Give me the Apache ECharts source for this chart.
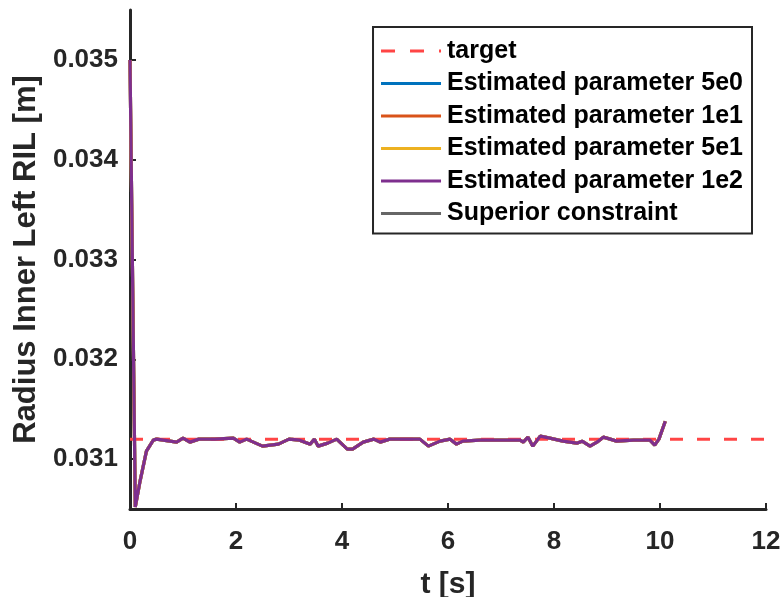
<!DOCTYPE html>
<html><head><meta charset="utf-8">
<script src="https://cdn.jsdelivr.net/npm/echarts@6/dist/echarts.min.js"></script>
<style>html,body{margin:0;padding:0;background:#fff}#c{width:784px;height:597px}</style>
</head><body><div id="c"></div>
<script>
const timeS = [0,0.1,0.19,0.31,0.44,0.5,0.88,1.0,1.13,1.3,1.6,1.95,2.07,2.2,2.5,2.8,3.0,3.2,3.4,3.48,3.55,3.73,3.9,4.1,4.2,4.4,4.6,4.72,4.9,5.2,5.47,5.63,5.85,6.04,6.16,6.28,6.6,7.0,7.36,7.42,7.51,7.6,7.74,7.92,8.17,8.43,8.53,8.68,8.81,8.93,9.06,9.18,9.5,9.81,9.9,9.98,10.1];
const estimated = [0.0350,0.03052,0.03078,0.03108,0.03119,0.0312,0.03117,0.03121,0.03117,0.0312,0.0312,0.03121,0.03117,0.0312,0.03113,0.03115,0.0312,0.03119,0.03115,0.0312,0.03113,0.03116,0.0312,0.0311,0.0311,0.03117,0.0312,0.03117,0.0312,0.0312,0.0312,0.03113,0.03118,0.0312,0.03115,0.03118,0.03119,0.03119,0.03119,0.03117,0.03122,0.03113,0.03123,0.03121,0.03118,0.03116,0.03118,0.03113,0.03117,0.03122,0.0312,0.03118,0.03119,0.03119,0.03114,0.0312,0.03138];
const targetT = [0,12];
const targetV = [0.0312,0.0312];
const yTicks = [0.031,0.032,0.033,0.034,0.035];
const names = ['target','Estimated parameter 5e0','Estimated parameter 1e1','Estimated parameter 5e1','Estimated parameter 1e2','Superior constraint'];
const colors = ['#ff4545','#0072BD','#D95319','#EDB120','#7E2F8E','#666666'];

const pairs = (a,b)=>a.map((v,i)=>[v,b[i]]);
const est = pairs(timeS, estimated);
const font = 'Liberation Sans, Arial, sans-serif';
const solidIcon = 'path://M0,0H60V3H0Z';
const dashIcon = 'path://M0,0H14V3H0Z M29,0H43V3H29Z M58,0H60V3H58Z';
const chart = echarts.init(document.getElementById('c'));
const mk = (i,data,extra)=>Object.assign({
  name:names[i], type:'line', data:data, symbol:'none', showSymbol:false,
  lineStyle:{color:colors[i],width:3.2}, itemStyle:{color:colors[i]}, animation:false
}, extra||{});
chart.setOption({
  backgroundColor:'#fff',
  grid:{left:130,right:18,top:10,bottom:88,containLabel:false,outerBoundsMode:'none'},
  xAxis:{type:'value',min:0,max:12,interval:2,
    name:'t [s]',nameLocation:'middle',nameGap:61,
    nameTextStyle:{fontFamily:font,fontWeight:'bold',fontSize:30,color:'#262626'},
    axisLine:{lineStyle:{color:'#262626',width:3}},
    axisTick:{inside:true,length:6,lineStyle:{color:'#262626',width:2}},
    axisLabel:{fontFamily:font,fontWeight:'bold',fontSize:26,color:'#262626',margin:20},
    splitLine:{show:false}},
  yAxis:{type:'value',min:0.0305,max:0.0355,
    name:'Radius Inner Left RIL [m]',nameLocation:'middle',nameGap:85,
    nameTextStyle:{fontFamily:font,fontWeight:'bold',fontSize:31,color:'#262626'},
    axisLine:{show:true,lineStyle:{color:'#262626',width:3}},
    axisTick:{show:true,inside:true,length:6,customValues:yTicks,lineStyle:{color:'#262626',width:2}},
    axisLabel:{fontFamily:font,fontWeight:'bold',fontSize:26,color:'#262626',margin:12,
      customValues:yTicks,formatter:v=>v.toFixed(3)},
    splitLine:{show:false}},
  legend:{show:true,right:32,top:27,orient:'vertical',
    backgroundColor:'#fff',borderColor:'#262626',borderWidth:2,padding:[11,9,7,8],
    itemWidth:60,itemHeight:3,itemGap:6.5,
    textStyle:{fontFamily:font,fontWeight:'bold',fontSize:25,color:'#000',lineHeight:26,padding:[0,0,0,1]},
    data:names.map((n,i)=>({name:n,icon:i===0?dashIcon:solidIcon}))},
  series:[
    mk(0,pairs(targetT,targetV),{lineStyle:{color:colors[0],width:3,type:[13,14]},z:3}),
    mk(1,est,{z:2}),
    mk(2,est,{z:2}),
    mk(3,est,{z:2}),
    mk(4,est,{z:4}),
    mk(5,[],{z:2})
  ]
});
</script></body></html>
